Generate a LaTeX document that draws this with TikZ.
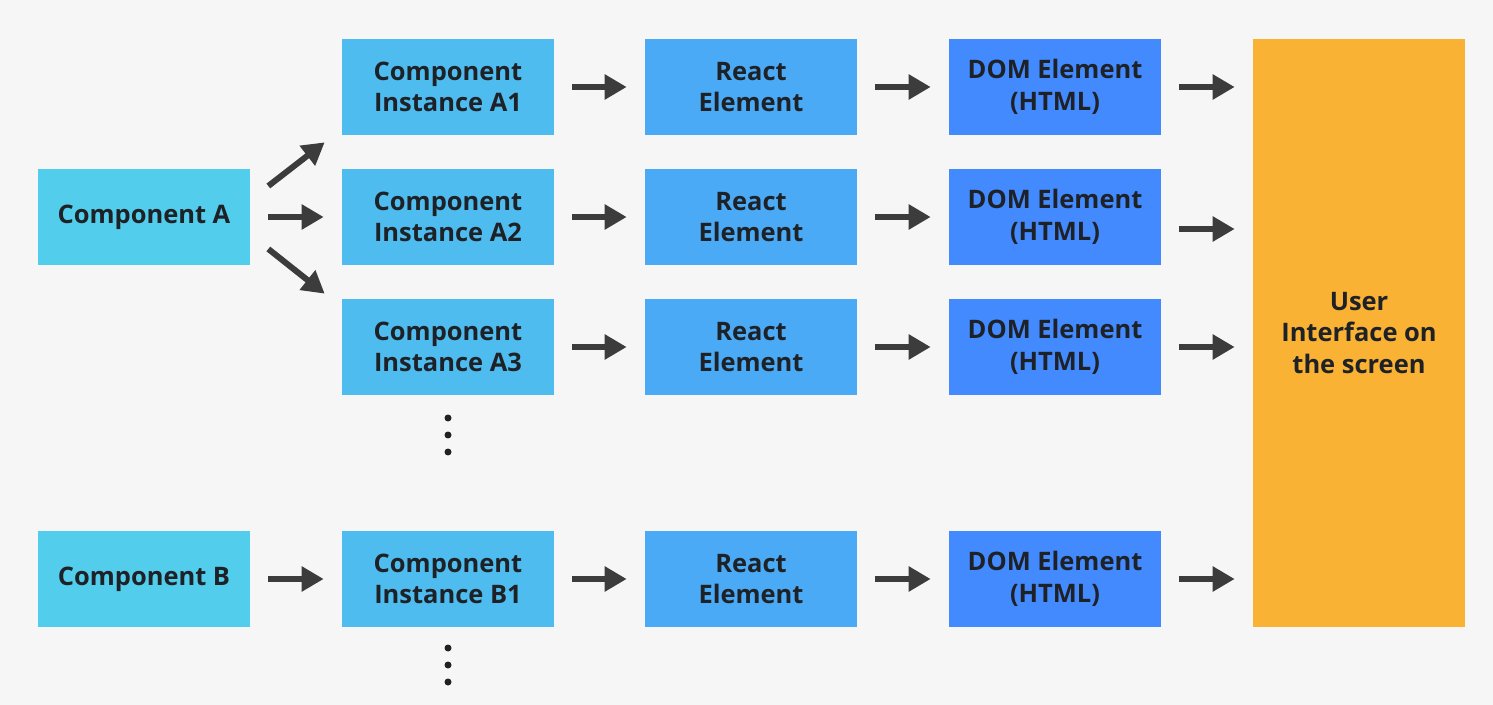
\documentclass[tikz,border=0pt]{standalone}
\usepackage{fontspec}
\setmainfont{Open Sans}
\usetikzlibrary{arrows.meta}
\definecolor{bgray}{RGB}{246,246,246}
\definecolor{compcyan}{RGB}{82,205,235}
\definecolor{instblue}{RGB}{78,188,239}
\definecolor{reactblue}{RGB}{75,170,245}
\definecolor{domblue}{RGB}{68,138,255}
\definecolor{uiorange}{RGB}{249,178,52}
\definecolor{arrowgray}{RGB}{60,60,60}
\definecolor{textdark}{RGB}{30,34,39}

\begin{document}
\begin{tikzpicture}[x=0.02cm,y=-0.02cm,
	box/.style={rectangle,draw=none,minimum width=4.24cm,minimum height=1.92cm,inner sep=0pt,align=center,text=textdark,font=\bfseries\fontsize{14.5}{18}\selectfont},
	arr/.style={draw=arrowgray,line width=0.12cm,-{Triangle[length=0.44cm,width=0.48cm]},shorten <=0.36cm,shorten >=0.36cm},
	dot/.style={circle,fill=textdark,inner sep=0pt,minimum size=0.14cm}]
	\fill[bgray] (0,0) rectangle (1493,705);
	\useasboundingbox (0,0) rectangle (1493,705);

	\node[box,fill=compcyan] (ca) at (144,217) {Component A};
	\node[box,fill=compcyan] (cb) at (144,579) {Component B};

	\node[box,fill=instblue] (ia1) at (448,87) {Component\\Instance A1};
	\node[box,fill=instblue] (ia2) at (448,217) {Component\\Instance A2};
	\node[box,fill=instblue] (ia3) at (448,347) {Component\\Instance A3};
	\node[box,fill=instblue] (ib1) at (448,579) {Component\\Instance B1};

	\node[box,fill=reactblue] (r1) at (751,87) {React\\Element};
	\node[box,fill=reactblue] (r2) at (751,217) {React\\Element};
	\node[box,fill=reactblue] (r3) at (751,347) {React\\Element};
	\node[box,fill=reactblue] (rb) at (751,579) {React\\Element};

	\node[box,fill=domblue] (d1) at (1055,87) {DOM Element\\(HTML)};
	\node[box,fill=domblue] (d2) at (1055,217) {DOM Element\\(HTML)};
	\node[box,fill=domblue] (d3) at (1055,347) {DOM Element\\(HTML)};
	\node[box,fill=domblue] (db) at (1055,579) {DOM Element\\(HTML)};

	\node[box,fill=uiorange,minimum height=11.76cm] (ui) at (1359,333) {User\\Interface on\\the screen};

	% component A fans out
	\draw[arr,shorten <=0pt,shorten >=0pt] ([shift={(18,-31)}]ca.east) -- ([shift={(-17,7)}]ia1.south west);
	\draw[arr] (ca) -- (ia2);
	\draw[arr,shorten <=0pt,shorten >=0pt] ([shift={(18,32)}]ca.east) -- ([shift={(-17,-5)}]ia3.north west);
	\draw[arr] (cb) -- (ib1);

	\draw[arr] (ia1) -- (r1);
	\draw[arr] (ia2) -- (r2);
	\draw[arr] (ia3) -- (r3);
	\draw[arr] (ib1) -- (rb);

	\draw[arr] (r1) -- (d1);
	\draw[arr] (r2) -- (d2);
	\draw[arr] (r3) -- (d3);
	\draw[arr] (rb) -- (db);

	\draw[arr] (d1.east) -- (d1.east -| ui.west);
	\draw[arr] ([shift={(0,12)}]d2.east) -- ([shift={(0,12)}]d2.east -| ui.west);
	\draw[arr] (d3.east) -- (d3.east -| ui.west);
	\draw[arr] (db.east) -- (db.east -| ui.west);

	% more instances
	\node[dot] (dota1) at (448,418) {};
	\node[dot] (dota2) at (448,435) {};
	\node[dot] (dota3) at (448,452) {};
	\node[dot] (dotb1) at (448,648) {};
	\node[dot] (dotb2) at (448,665) {};
	\node[dot] (dotb3) at (448,682) {};
\end{tikzpicture}
\end{document}
